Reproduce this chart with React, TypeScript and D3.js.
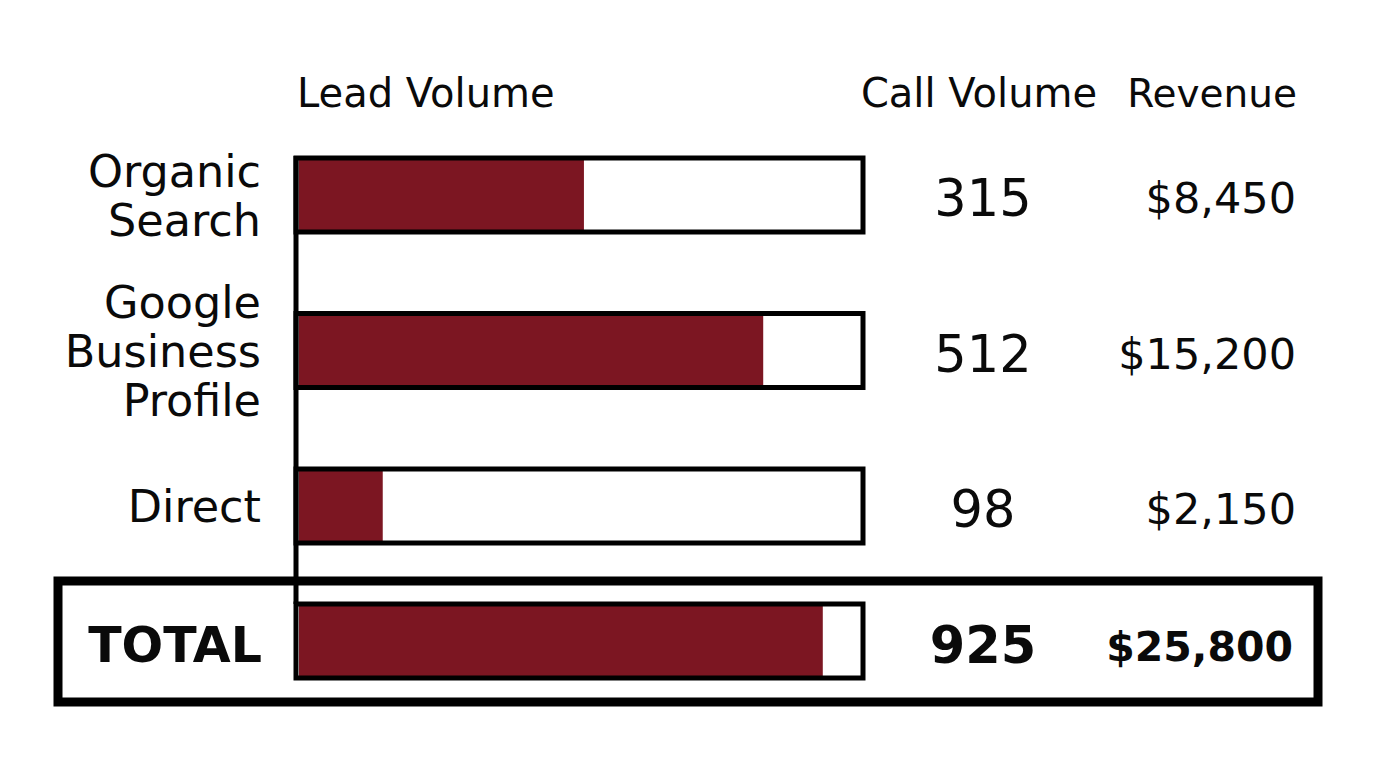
import React from 'react';
import * as d3 from 'd3';

const channels = ['Organic Search', 'Google Business Profile', 'Direct'];
const channelLines = [['Organic', 'Search'], ['Google', 'Business', 'Profile'], ['Direct']];
const leadVolume = [50.7, 82.6, 14.9];
const callVolume = [315, 512, 98];
const revenue = [8450, 15200, 2150];

const totalLabel = 'TOTAL';
const totalLead = 93.2;
const totalCalls = 925;
const totalRevenue = 25800;

const headers = ['Lead Volume', 'Call Volume', 'Revenue'];

const W = 1376;
const H = 768;
const FONT = '"DejaVu Sans", sans-serif';
const BAR_FILL = '#7c1622';
const INK = '#0a0a0a';

const fmtMoney = (v: number) => '$' + d3.format(',')(v);

export default function App() {
  // horizontal: bar box from 296 to 863
  const x = d3.scaleLinear().domain([0, 100]).range([299, 861]);
  const boxLeft = 296;
  const boxRight = 863;
  const callX = 983;
  const revX = 1296;

  // vertical: the three channel rows, total row sits in its own box below
  const y = d3.scalePoint<string>().domain(channels).range([195, 506]);
  const totalY = 641;
  const barH = 74;
  const lineH = 49;

  return (
    <div style={{ position: 'absolute', left: 0, top: 0 }}>
      <svg width={W} height={H} style={{ display: 'block', background: '#fff' }} fontFamily={FONT}>
        {/* headers */}
        <text x={boxLeft + 1} y={107} fontSize={40} fill={INK}>{headers[0]}</text>
        <text x={callX - 4} y={107} fontSize={40} fill={INK} textAnchor="middle">{headers[1]}</text>
        <text x={revX + 1} y={107} fontSize={39} fill={INK} textAnchor="end">{headers[2]}</text>

        {/* total outline */}
        <rect x={58} y={581} width={1260} height={121} fill="none" stroke="#000" strokeWidth={9} />

        {/* left axis line */}
        <line x1={boxLeft} x2={boxLeft} y1={(y(channels[0]) || 0) - barH / 2 - 2} y2={totalY - barH / 2}
          stroke="#000" strokeWidth={5} />

        {channels.map((c, i) => {
          const cy = y(c) || 0;
          const lines = channelLines[i];
          return (
            <g key={c}>
              {lines.map((l, j) => (
                <text key={l} x={261} y={cy + (j - (lines.length - 1) / 2) * lineH + 16}
                  fontSize={44.5} textAnchor="end" fill={INK}>{l}</text>
              ))}
              <rect x={x(0)} y={cy - barH / 2 + 2} width={x(leadVolume[i]) - x(0)} height={barH - 4} fill={BAR_FILL} />
              <rect x={boxLeft} y={cy - barH / 2} width={boxRight - boxLeft} height={barH}
                fill="none" stroke="#000" strokeWidth={5} />
              <text x={callX} y={cy + 21} fontSize={51} textAnchor="middle" fill={INK}>{callVolume[i]}</text>
              <text x={revX} y={cy + 18} fontSize={43} textAnchor="end" fill={INK}>{fmtMoney(revenue[i])}</text>
            </g>
          );
        })}

        {/* total row */}
        <g>
          <text x={262} y={totalY + 21} fontSize={49} fontWeight="bold" textAnchor="end" fill={INK}>{totalLabel}</text>
          <rect x={x(0)} y={totalY - barH / 2 + 2} width={x(totalLead) - x(0)} height={barH - 4} fill={BAR_FILL} />
          <rect x={boxLeft} y={totalY - barH / 2} width={boxRight - boxLeft} height={barH}
            fill="none" stroke="#000" strokeWidth={5} />
          <text x={callX} y={totalY + 22} fontSize={51} fontWeight="bold" textAnchor="middle" fill={INK}>{totalCalls}</text>
          <text x={1293} y={totalY + 20} fontSize={41} fontWeight="bold" textAnchor="end" fill={INK}>{fmtMoney(totalRevenue)}</text>
        </g>
      </svg>
    </div>
  );
}
